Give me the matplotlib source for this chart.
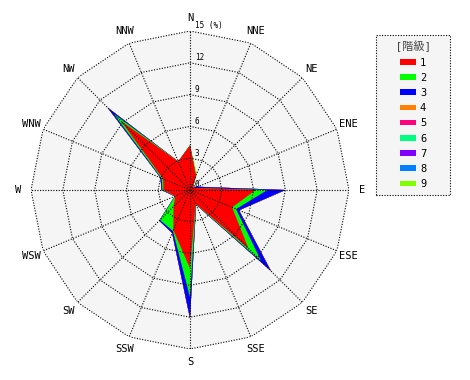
import numpy as np
import matplotlib
matplotlib.use("Agg")
import matplotlib.pyplot as plt

# ---- data ----
directions = ['N', 'NNE', 'NE', 'ENE', 'E', 'ESE', 'SE', 'SSE',
              'S', 'SSW', 'SW', 'WSW', 'W', 'WNW', 'NW', 'NNW']
class_labels = ['1', '2', '3', '4', '5', '6', '7', '8', '9']
class_colors = ['#ff0000', '#00ff00', '#0000ff', '#ff8000', '#ff0080',
                '#00ff80', '#8000ff', '#0080ff', '#80ff00']

c1 = [4.2, 1.45, 0.4, 0.5, 6.2, 4.3, 7.8, 1.4, 7.4, 4.1, 2.2, 1.5, 2.5, 2.75, 9.2, 2.9]
c2 = [0.0, 0.0, 0.0, 0.0, 1.1, 0.4, 1.7, 0.05, 2.7, 0.1, 1.8, 0.0, 0.1, 0.15, 1.0, 0.0]
c3 = [0.0, 0.0, 0.0, 0.3, 1.7, 0.3, 1.3, 0.05, 2.0, 0.2, 0.1, 0.05, 0.1, 0.1, 0.8, 0.0]
c4 = [0.0] * 16
c5 = [0.0] * 16
c6 = [0.0] * 16
c7 = [0.0] * 16
c8 = [0.0] * 16
c9 = [0.05, 0.25, 0.0, 0.0, 0.0, 0.0, 0.0, 0.0, 0.0, 0.0, 0.0, 0.0, 0.0, 0.0, 0.0, 0.0]

ring_values = [3, 6, 9, 12, 15]
ring_labels = ['0', '3', '6', '9', '12', '15 (%)']
r_max = 15

# ---- figure ----
W, H = 470, 380
fig = plt.figure(figsize=(W / 100, H / 100), dpi=100)
cx, cy, R = 190, 190, 159
ax = fig.add_axes([(cx - R) / W, (H - cy - R) / H, 2 * R / W, 2 * R / H],
                  projection='polar')
ax.set_theta_zero_location('N')
ax.set_theta_direction(-1)
ax.set_ylim(0, r_max)
ax.grid(False)
ax.set_xticks([])
ax.set_yticks([])
ax.spines['polar'].set_visible(False)
ax.patch.set_visible(False)

theta = np.deg2rad(np.arange(len(directions)) * 22.5)
theta_c = np.append(theta, theta[0])

# background polygon
ax.fill(theta_c, [r_max] * len(theta_c), color='#f5f5f5', lw=0, zorder=0)

stack = np.array([c1, c2, c3, c4, c5, c6, c7, c8, c9])
cum = np.cumsum(stack, axis=0)
handles = [None] * len(class_labels)
for k in range(len(class_labels) - 1, -1, -1):
    vals = np.append(cum[k], cum[k][0])
    h, = ax.fill(theta_c, vals, color=class_colors[k], lw=0, zorder=2 + (9 - k) * 0.01,
                 label=class_labels[k])
    handles[k] = h

dot = (0, (1, 1.4))
for rv in ring_values:
    ax.plot(theta_c, [rv] * len(theta_c), color='black', lw=0.8, linestyle=dot, zorder=5)
for t in theta:
    ax.plot([t, t], [0, r_max], color='black', lw=0.8, linestyle=dot, zorder=5)

mono = ['DejaVu Sans Mono', 'Noto Sans CJK JP']
for t, d in zip(theta, directions):
    ax.text(t, 16.2, d, ha='center', va='center', fontsize=7.5, family=mono,
            clip_on=False, zorder=6)

for rv, lab in zip([0] + ring_values, ring_labels):
    ax.annotate(lab, xy=(0, rv), xytext=(3.5, 0.5), textcoords='offset points',
                ha='left', va='bottom', fontsize=5.5, family=mono, zorder=7,
                annotation_clip=False)

leg = fig.legend(handles=handles, labels=class_labels, loc='upper left',
                 bbox_to_anchor=(376 / W, 1 - 35 / H), borderaxespad=0,
                 title='  [階級]  ', title_fontsize=8,
                 prop={'family': mono, 'size': 7.5},
                 handlelength=1.55, handleheight=0.45, handletextpad=0.35,
                 labelspacing=0.5, borderpad=0.55, fancybox=False,
                 alignment='center')
leg.get_title().set_family(mono)
leg.get_title().set_color('#444444')
fr = leg.get_frame()
fr.set_facecolor('#f5f5f5')
fr.set_edgecolor('black')
fr.set_linestyle(dot)
fr.set_linewidth(0.8)
fr.set_alpha(1)

fig.savefig('out.png', dpi=100)
